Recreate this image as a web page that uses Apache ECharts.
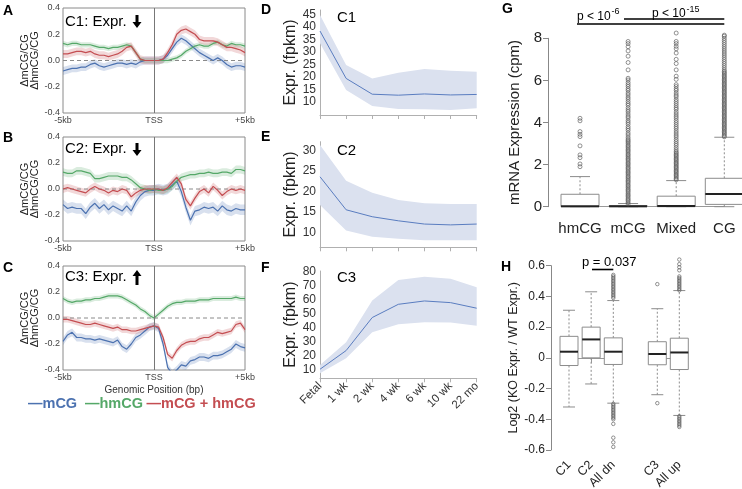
<!DOCTYPE html>
<html><head><meta charset="utf-8">
<script src="https://cdn.jsdelivr.net/npm/echarts@6/dist/echarts.min.js"></script>
<style>html,body{margin:0;padding:0;background:#fff}#c{width:742px;height:489px}</style>
</head><body><div id="c"></div><script>
// ---------- DATA ----------
var positionsKb = [-5,-4.75,-4.5,-4.25,-4,-3.75,-3.5,-3.25,-3,-2.75,-2.5,-2.25,-2,-1.75,-1.5,-1.25,-1,-0.75,-0.5,-0.25,0,0.25,0.5,0.75,1,1.25,1.5,1.75,2,2.25,2.5,2.75,3,3.25,3.5,3.75,4,4.25,4.5,4.75,5];
var aMCG   = [-0.08,-0.07,-0.06,-0.06,-0.05,-0.05,-0.03,-0.02,-0.04,-0.05,-0.04,-0.03,-0.02,-0.02,-0.03,-0.02,-0.03,-0.01,0,0,0,0,0.01,0.04,0.09,0.14,0.17,0.15,0.12,0.09,0.06,0.04,0.02,0,0.02,0,-0.03,-0.05,-0.04,-0.04,-0.05];
var aHMCG  = [0.13,0.12,0.13,0.13,0.12,0.12,0.12,0.11,0.10,0.10,0.09,0.10,0.10,0.11,0.12,0.11,0.06,0.01,0,0,0,0,0,0,0.01,0.02,0.04,0.07,0.09,0.11,0.12,0.11,0.11,0.13,0.14,0.12,0.11,0.13,0.12,0.12,0.11];
var aBOTH  = [0.05,0.05,0.06,0.07,0.07,0.06,0.07,0.05,0.04,0.04,0.03,0.04,0.05,0.07,0.10,0.11,0.06,0.01,0,0,0,0,0.01,0.06,0.12,0.20,0.23,0.24,0.22,0.20,0.16,0.15,0.15,0.15,0.14,0.12,0.10,0.10,0.09,0.08,0.06];
var bMCG   = [-0.12,-0.15,-0.14,-0.15,-0.15,-0.19,-0.14,-0.11,-0.15,-0.12,-0.16,-0.13,-0.15,-0.17,-0.13,-0.17,-0.10,-0.05,-0.02,-0.01,-0.01,0,-0.01,0,0.03,0.06,-0.02,-0.14,-0.24,-0.17,-0.16,-0.14,-0.15,-0.14,-0.17,-0.13,-0.16,-0.17,-0.15,-0.16,-0.16];
var bHMCG  = [0.13,0.12,0.12,0.14,0.14,0.13,0.12,0.08,0.08,0.09,0.10,0.10,0.10,0.09,0.09,0.07,0.04,0.01,0,-0.01,0,-0.01,-0.01,0,0.02,0.06,0.09,0.10,0.11,0.11,0.12,0.12,0.13,0.12,0.12,0.13,0.13,0.12,0.15,0.15,0.14];
var bBOTH  = [0,0.01,0,-0.01,-0.02,-0.03,0,0.02,0,-0.01,-0.03,-0.01,-0.02,0,-0.01,-0.06,-0.03,-0.01,0,0,0,0,-0.01,0.01,0.05,0.09,0.04,-0.08,-0.13,-0.07,-0.02,0,-0.03,0.02,-0.01,-0.05,-0.02,0,-0.01,0,-0.01];
var cMCG   = [-0.18,-0.13,-0.11,-0.15,-0.15,-0.16,-0.16,-0.17,-0.16,-0.17,-0.18,-0.19,-0.17,-0.22,-0.24,-0.20,-0.15,-0.13,-0.10,-0.07,-0.06,-0.08,-0.20,-0.38,-0.43,-0.40,-0.36,-0.37,-0.33,-0.32,-0.30,-0.30,-0.31,-0.29,-0.29,-0.28,-0.26,-0.24,-0.20,-0.22,-0.23];
var cHMCG  = [0.15,0.13,0.12,0.13,0.13,0.14,0.14,0.15,0.15,0.16,0.17,0.17,0.17,0.16,0.14,0.12,0.10,0.07,0.05,0.02,0,0.03,0.06,0.09,0.11,0.12,0.12,0.13,0.13,0.13,0.14,0.14,0.14,0.15,0.15,0.15,0.15,0.15,0.16,0.15,0.15];
var cBOTH  = [-0.01,-0.01,-0.02,-0.03,-0.04,-0.05,-0.05,-0.04,-0.05,-0.06,-0.07,-0.08,-0.07,-0.09,-0.09,-0.10,-0.10,-0.09,-0.08,-0.07,-0.06,-0.07,-0.15,-0.28,-0.31,-0.25,-0.21,-0.19,-0.18,-0.18,-0.16,-0.15,-0.15,-0.13,-0.11,-0.12,-0.11,-0.10,-0.05,-0.04,-0.09];
// half-width of the shaded error band [mCG, hmCG, mCG+hmCG] per panel
var bandHalfA = [0.03,0.02,0.03];
var bandHalfB = [0.04,0.03,0.03];
var bandHalfC = [0.03,0.02,0.025];
var tssLabels = ['-5kb','TSS','+5kb'];

var ages = ['Fetal','1 wk','2 wk','4 wk','6 wk','10 wk','22 mo'];
var c1Mean  = [38.3,19.4,13.1,12.7,13.2,12.8,13.0];
var c1Upper = [44.7,24.8,19.4,21.7,23.2,22.5,22.1];
var c1Lower = [33.4,14.8,8.4,7.2,7.1,6.8,7.5];
var c2Mean  = [23.6,15.5,13.8,12.8,12.0,11.8,12.0];
var c2Upper = [31.4,22.6,19.7,17.9,17.1,16.9,16.9];
var c2Lower = [16.7,10.4,8.9,8.4,8.0,8.0,8.0];
var c3Mean  = [10.0,23.4,47.1,56.6,59.0,57.8,53.8];
var c3Upper = [13.1,29.4,59.3,74.0,76.4,75.0,68.8];
var c3Lower = [7.1,17.9,36.6,42.3,43.7,43.5,41.3];

var gCats = ['hmCG','mCG','Mixed','CG'];
// [lowWhisker, Q1, median, Q3, highWhisker]
var gBoxes = [[0,0,0.02,0.59,1.43],[0,0,0.02,0.05,0.15],[0,0,0.03,0.5,1.24],[0,0.11,0.6,1.35,3.3]];
var gOutHmCG = [1.9,2.03,2.33,2.46,2.89,3.33,3.44,3.57,4.08,4.2];
var gOutMCG = [0.13,0.2,0.28,0.34,0.41,0.49,0.55,0.62,0.7,0.77,0.83,0.91,0.98,1.04,1.12,1.19,1.25,1.33,1.4,1.46,1.54,1.61,1.67,1.75,1.82,1.88,1.96,2.03,2.09,2.17,2.24,2.3,2.38,2.45,2.51,2.59,2.66,2.72,2.8,2.87,2.93,3.01,3.08,3.14,3.21,3.3,3.41,3.5,3.62,3.71,3.8,3.92,4.01,4.1,4.22,4.3,4.4,4.51,4.6,4.7,4.82,4.9,5.0,5.11,5.2,5.31,5.4,5.52,5.6,5.71,5.8,5.9,6.02,6.1,6.5,6.85,7.15,7.4,7.6,7.75,7.85];
var gOutMixed = [1.28,1.34,1.41,1.47,1.53,1.6,1.66,1.72,1.79,1.85,1.91,1.98,2.04,2.1,2.17,2.23,2.29,2.36,2.42,2.48,2.55,2.61,2.7,2.8,2.91,3.0,3.1,3.2,3.31,3.4,3.5,3.6,3.71,3.8,3.9,4.0,4.1,4.21,4.3,4.4,4.5,4.62,4.7,4.8,4.9,5.0,5.1,5.22,5.3,5.4,5.52,5.6,5.71,5.8,6.05,6.2,6.5,6.8,7.0,7.3,7.5,7.62,7.75,7.85,8.25];
var gOutCG = [3.32,3.38,3.45,3.51,3.57,3.64,3.7,3.76,3.83,3.89,3.95,4.02,4.08,4.14,4.21,4.27,4.33,4.4,4.46,4.52,4.59,4.65,4.71,4.78,4.84,4.9,4.97,5.03,5.09,5.16,5.22,5.28,5.35,5.41,5.47,5.54,5.6,5.66,5.73,5.79,5.85,5.92,5.98,6.04,6.11,6.17,6.23,6.3,6.36,6.42,6.5,6.6,6.7,6.8,6.9,7.0,7.1,7.2,7.3,7.4,7.5,7.6,7.7,7.8,7.9,8.0,8.1,8.15];

var hCats1 = ['C1','C2','All dn'];
var hCats2 = ['C3','All up'];
var hBoxes1 = [[-0.32,-0.05,0.04,0.14,0.31],[-0.17,0.0,0.12,0.2,0.43],[-0.295,-0.043,0.04,0.13,0.373]];
var hBoxes2 = [[-0.24,-0.045,0.025,0.105,0.32],[-0.375,-0.076,0.035,0.128,0.438]];
var hOutAllDn = [0.39,0.4,0.41,0.42,0.43,0.44,0.45,0.46,0.47,0.48,0.49,0.5,0.51,0.52,0.53,0.54,-0.3,-0.31,-0.32,-0.33,-0.34,-0.35,-0.36,-0.37,-0.38,-0.39,-0.4,-0.43,-0.52,-0.55,-0.58];
var hOutC3 = [0.48,-0.295];
var hOutAllUp = [0.44,0.45,0.46,0.47,0.48,0.49,0.5,0.51,0.52,0.53,0.57,0.59,0.61,0.64,-0.38,-0.39,-0.4,-0.41,-0.42,-0.43,-0.44,-0.45];

// ---------- STYLE ----------
var FONT = 'Liberation Sans, Arial, Helvetica, sans-serif';
var BLUE = '#4C72B0', GREEN = '#55A868', RED = '#C44E52';
var BLUE_F = 'rgba(76,114,176,0.22)', GREEN_F = 'rgba(85,168,104,0.22)', RED_F = 'rgba(196,78,82,0.22)';

var chart = echarts.init(document.getElementById('c'), null, {width:742, height:489});

var grids = [], xAxes = [], yAxes = [], series = [], graphics = [];

function pairs(xs, ys){ return xs.map(function(x,i){ return [x, ys[i]]; }); }
function bandSeries(gi, xs, lower, upper, fill){
  return {type:'custom', xAxisIndex:gi, yAxisIndex:gi, silent:true, z:1, clip:false,
    data:[[xs[0], lower[0]]],
    renderItem:function(params, api){
      var cs = params.coordSys, pts = [];
      function push(x,y){ var p = api.coord([x,y]); p[1] = Math.max(cs.y, Math.min(cs.y+cs.height, p[1])); pts.push(p); }
      for (var i=0;i<xs.length;i++) push(xs[i], upper[i]);
      for (var j=xs.length-1;j>=0;j--) push(xs[j], lower[j]);
      return {type:'polygon', shape:{points:pts}, style:{fill:fill}};
    }};
}

// ---- Panels A-C ----
var profTops = [8,137,266], profH = [105,104,104];
var profData = [[aMCG,aHMCG,aBOTH,bandHalfA],[bMCG,bHMCG,bBOTH,bandHalfB],[cMCG,cHMCG,cBOTH,bandHalfC]];
profData.forEach(function(pd, k){
  var gi = grids.length;
  grids.push({left:63, top:profTops[k], width:182, height:profH[k], show:true, borderColor:'#8a8a8a', borderWidth:1, backgroundColor:'transparent', outerBoundsMode:'none', containLabel:false});
  xAxes.push({gridIndex:gi, type:'value', min:-5, max:5, axisLine:{show:false}, axisTick:{show:false}, splitLine:{show:false},
    axisLabel:{customValues:[-5,0,5], formatter:function(v){ return v<0?tssLabels[0]:(v>0?tssLabels[2]:tssLabels[1]); }, fontSize:9, color:'#444', margin:3, fontFamily:FONT},
    name: k===2 ? 'Genomic Position (bp)' : '', nameLocation:'middle', nameGap:15, nameTextStyle:{fontSize:10, color:'#333', fontFamily:FONT}});
  yAxes.push({gridIndex:gi, type:'value', min:-0.4, max:0.4, interval:0.2, axisLine:{show:false}, axisTick:{show:false}, splitLine:{show:false},
    axisLabel:{formatter:function(v){ return v.toFixed(1); }, fontSize:9, color:'#444', margin:3, fontFamily:FONT},
    name:'ΔmCG/CG\nΔhmCG/CG', nameLocation:'middle', nameGap:22, nameTextStyle:{fontSize:11, lineHeight:10, color:'#222', fontFamily:FONT}});
  var cols = [BLUE,GREEN,RED], fills = [BLUE_F,GREEN_F,RED_F];
  for (var s=0;s<3;s++){
    var vals = pd[s], hw = pd[3][s];
    series.push(bandSeries(gi, positionsKb, vals.map(function(v){return v-hw;}), vals.map(function(v){return v+hw;}), fills[s]));
  }
  series.push({type:'line', xAxisIndex:gi, yAxisIndex:gi, data:[[-5,0],[5,0]], showSymbol:false, silent:true, z:2,
    lineStyle:{color:'#8a8a8a', width:1, type:[4,3]},
    markLine:{silent:true, symbol:'none', label:{show:false}, animation:false,
      data:[{xAxis:0, lineStyle:{color:'#777', width:1, type:'solid'}}]}});
  for (var s2=0;s2<3;s2++){
    series.push({type:'line', xAxisIndex:gi, yAxisIndex:gi, data:pairs(positionsKb, pd[s2]), showSymbol:false, z:3,
      lineStyle:{color:cols[s2], width:1.2}, itemStyle:{color:cols[s2]}});
  }
});

// ---- Panels D-F ----
var devGrids = [{top:10,h:105,min:4.8,max:46.7,labs:[10,15,20,25,30,35,40,45]},
                {top:141.7,h:105.6,min:6.3,max:32.2,labs:[10,15,20,25,30]},
                {top:271,h:107.3,min:3.5,max:80.5,labs:[10,20,30,40,50,60,70,80]}];
var devData = [[c1Mean,c1Lower,c1Upper],[c2Mean,c2Lower,c2Upper],[c3Mean,c3Lower,c3Upper]];
var ageIdx = ages.map(function(a,i){return i;});
devGrids.forEach(function(dg,k){
  var gi = grids.length;
  grids.push({left:320, top:dg.top, width:156.7, height:dg.h, outerBoundsMode:'none', containLabel:false});
  xAxes.push({gridIndex:gi, type:'category', data:ages, boundaryGap:false,
    axisLine:{lineStyle:{color:'#b0b0b0'}}, axisTick:{show:true, length:4, lineStyle:{color:'#b0b0b0'}},
    axisLabel:{show:k===2, rotate:45, fontSize:11.5, color:'#333', margin:6, interval:0, fontFamily:FONT}, splitLine:{show:false}});
  yAxes.push({gridIndex:gi, type:'value', min:dg.min, max:dg.max, axisLine:{show:true, lineStyle:{color:'#b0b0b0'}}, axisTick:{show:false}, splitLine:{show:false},
    axisLabel:{customValues:dg.labs, fontSize:12, color:'#333', margin:4, fontFamily:FONT},
    name:'Expr. (fpkm)', nameLocation:'middle', nameGap:20, nameTextStyle:{fontSize:16, color:'#222', fontFamily:FONT}});
  series.push(bandSeries(gi, ageIdx, devData[k][1], devData[k][2], '#dbe1ef'));
  series.push({type:'line', xAxisIndex:gi, yAxisIndex:gi, data:devData[k][0], showSymbol:false, z:3,
    lineStyle:{color:'#5a7dc0', width:1}, itemStyle:{color:'#5a7dc0'}});
});

// ---- Box helpers ----
function boxSeries(gi, stats, halfW, capHalf){
  return {type:'custom', xAxisIndex:gi, yAxisIndex:gi, clip:false, silent:true, z:2,
    data: stats.map(function(s,i){ return [i].concat(s); }),
    renderItem:function(params, api){
      var x = api.value(0);
      var lo = api.coord([x, api.value(1)]), q1 = api.coord([x, api.value(2)]), md = api.coord([x, api.value(3)]),
          q3 = api.coord([x, api.value(4)]), hi = api.coord([x, api.value(5)]);
      var cx = lo[0];
      var wh = {stroke:'#8c8c8c', lineWidth:1, lineDash:[2,2]};
      var cap = {stroke:'#8c8c8c', lineWidth:1};
      return {type:'group', children:[
        {type:'line', shape:{x1:cx,y1:q3[1],x2:cx,y2:hi[1]}, style:wh},
        {type:'line', shape:{x1:cx,y1:q1[1],x2:cx,y2:lo[1]}, style:wh},
        {type:'line', shape:{x1:cx-capHalf,y1:hi[1],x2:cx+capHalf,y2:hi[1]}, style:cap},
        {type:'line', shape:{x1:cx-capHalf,y1:lo[1],x2:cx+capHalf,y2:lo[1]}, style:cap},
        {type:'rect', shape:{x:cx-halfW, y:q3[1], width:2*halfW, height:Math.max(q1[1]-q3[1],1)}, style:{fill:'#fff', stroke:'#8c8c8c', lineWidth:1}},
        {type:'line', shape:{x1:cx-halfW,y1:md[1],x2:cx+halfW,y2:md[1]}, style:{stroke:'#222', lineWidth:2}}
      ]};
    }};
}
function outlierSeries(gi, lists, size){
  var d = [];
  lists.forEach(function(l,i){ l.forEach(function(v){ d.push([i, v]); }); });
  return {type:'scatter', xAxisIndex:gi, yAxisIndex:gi, clip:false, silent:true, z:3, data:d,
    symbol:'circle', symbolSize:size, itemStyle:{color:'rgba(0,0,0,0)', borderColor:'#555', borderWidth:0.8}};
}

// ---- Panel G ----
(function(){
  var gi = grids.length;
  grids.push({left:580, top:38.3, width:144.3, height:168.4, outerBoundsMode:'none', containLabel:false});
  xAxes.push({gridIndex:gi, type:'category', data:gCats, boundaryGap:false, offset:6,
    axisLine:{lineStyle:{color:'#999'}}, axisTick:{show:false}, splitLine:{show:false},
    axisLabel:{fontSize:15, color:'#222', margin:9, interval:0, fontFamily:FONT}});
  yAxes.push({gridIndex:gi, type:'value', min:0, max:8, interval:2, offset:32,
    axisLine:{show:true, lineStyle:{color:'#888'}}, axisTick:{show:true, length:5, lineStyle:{color:'#888'}}, splitLine:{show:false},
    axisLabel:{fontSize:15, color:'#222', margin:6, fontFamily:FONT},
    name:'mRNA Expression (cpm)', nameLocation:'middle', nameGap:26, nameTextStyle:{fontSize:15, color:'#222', fontFamily:FONT}});
  series.push(boxSeries(gi, gBoxes, 19, 10));
  series.push(outlierSeries(gi, [gOutHmCG, gOutMCG, gOutMixed, gOutCG], 4));
})();

// ---- Panel H ----
(function(){
  var gi = grids.length;
  grids.push({left:569, top:265.7, width:44.3, height:184.3, outerBoundsMode:'none', containLabel:false});
  xAxes.push({gridIndex:gi, type:'category', data:hCats1, boundaryGap:false, offset:7,
    axisLine:{lineStyle:{color:'#999'}}, axisTick:{show:true, length:5, lineStyle:{color:'#999'}}, splitLine:{show:false},
    axisLabel:{rotate:45, fontSize:12.5, color:'#222', margin:6, interval:0, fontFamily:FONT}});
  yAxes.push({gridIndex:gi, type:'value', min:-0.6, max:0.6, interval:0.2, offset:18,
    axisLine:{show:true, lineStyle:{color:'#888'}}, axisTick:{show:true, length:5, lineStyle:{color:'#888'}}, splitLine:{show:false},
    axisLabel:{fontSize:12, color:'#222', margin:6, fontFamily:FONT, formatter:function(v){ return Math.abs(v)<1e-9 ? '0' : v.toFixed(1); }},
    name:'Log2 (KO Expr. / WT Expr.)', nameLocation:'middle', nameGap:28, nameTextStyle:{fontSize:12.5, color:'#222', fontFamily:FONT}});
  series.push(boxSeries(gi, hBoxes1, 9, 6));
  series.push(outlierSeries(gi, [[],[],hOutAllDn], 3.5));
  var gi2 = grids.length;
  grids.push({left:657.3, top:265.7, width:22, height:184.3, outerBoundsMode:'none', containLabel:false});
  xAxes.push({gridIndex:gi2, type:'category', data:hCats2, boundaryGap:false, offset:7,
    axisLine:{lineStyle:{color:'#999'}}, axisTick:{show:true, length:5, lineStyle:{color:'#999'}}, splitLine:{show:false},
    axisLabel:{rotate:45, fontSize:12.5, color:'#222', margin:6, interval:0, fontFamily:FONT}});
  yAxes.push({gridIndex:gi2, type:'value', min:-0.6, max:0.6, show:false});
  series.push(boxSeries(gi2, hBoxes2, 9, 6));
  series.push(outlierSeries(gi2, [hOutC3, hOutAllUp], 3.5));
})();

// ---------- ANNOTATIONS ----------
function T(x, y, s, size, extra){
  var st = {text:s, fontSize:size, fontFamily:FONT, fill:'#000', align:'left', verticalAlign:'middle'};
  if (extra) for (var k in extra) st[k] = extra[k];
  return {type:'text', x:x, y:y, silent:true, style:st};
}
function arrow(cx, yTail, yTip){
  var dir = yTip > yTail ? 1 : -1, hh = 6*dir;
  return {type:'polygon', silent:true, shape:{points:[[cx-1.5,yTail],[cx+1.5,yTail],[cx+1.5,yTip-hh],[cx+4.5,yTip-hh],[cx,yTip],[cx-4.5,yTip-hh],[cx-1.5,yTip-hh]]}, style:{fill:'#000'}};
}
graphics.push(T(3,11,'A',14,{fontWeight:'bold'}), T(3,138,'B',14,{fontWeight:'bold'}), T(3,268,'C',14,{fontWeight:'bold'}));
graphics.push(T(261,10,'D',14,{fontWeight:'bold'}), T(261,137,'E',14,{fontWeight:'bold'}), T(261,268,'F',14,{fontWeight:'bold'}));
graphics.push(T(502,9,'G',14,{fontWeight:'bold'}), T(501,267,'H',14,{fontWeight:'bold'}));
graphics.push(T(65,21.5,'C1: Expr.',15), T(65,149,'C2: Expr.',15), T(65,277,'C3: Expr.',15));
graphics.push(arrow(137,15,28), arrow(137,143,156), arrow(137,285,270));
graphics.push(T(337,18.3,'C1',15), T(337,150.7,'C2',15), T(337,278.3,'C3',15));
graphics.push(T(28,404,'—mCG',14.5,{fontWeight:'bold', fill:BLUE}), T(85,404,'—hmCG',14.5,{fontWeight:'bold', fill:GREEN}), T(146.5,404,'—mCG + hmCG',14.5,{fontWeight:'bold', fill:RED}));
// G p-values
graphics.push({type:'line', silent:true, shape:{x1:577,y1:24,x2:724.3,y2:24}, style:{stroke:'#000', lineWidth:1.3}});
graphics.push({type:'line', silent:true, shape:{x1:624,y1:19,x2:724.3,y2:19}, style:{stroke:'#000', lineWidth:1.3}});
graphics.push(T(577,16.5,'p < 10',12), T(611.5,12,'-6',9), T(652,14,'p < 10',12), T(686.5,9.5,'-15',9));
// H p-value
graphics.push(T(582,262.5,'p = 0.037',13));
graphics.push({type:'line', silent:true, shape:{x1:592,y1:269.5,x2:613.3,y2:269.5}, style:{stroke:'#000', lineWidth:1.6}});

chart.setOption({
  animation:false,
  textStyle:{fontFamily:FONT},
  grid:grids, xAxis:xAxes, yAxis:yAxes, series:series, graphic:graphics
});
</script></body></html>
